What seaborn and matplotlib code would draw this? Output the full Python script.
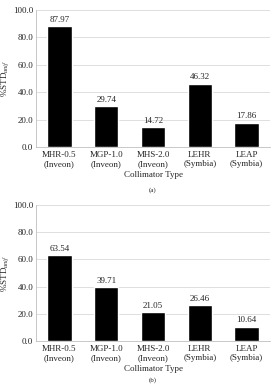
import numpy as np
import pandas as pd
import matplotlib
matplotlib.use("Agg")
import matplotlib.pyplot as plt
import seaborn as sns

categories = ["MHR-0.5\n(Inveon)", "MGP-1.0\n(Inveon)", "MHS-2.0\n(Inveon)",
              "LEHR\n(Symbia)", "LEAP\n(Symbia)"]
values_a = [87.97, 29.74, 14.72, 46.32, 17.86]
values_b = [63.54, 39.71, 21.05, 26.46, 10.64]
yticks = [0, 20, 40, 60, 80, 100]

sns.set_theme(style="white")
plt.rcParams['font.family'] = ['Liberation Serif', 'DejaVu Serif']
plt.rcParams['mathtext.fontset'] = 'stix'

W, H = 274, 388
fig = plt.figure(figsize=(W / 100, H / 100), dpi=100)


def panel(rect_px, values, tag, tag_y):
    x0, y_top, x1, y_bot = rect_px
    ax = fig.add_axes([x0 / W, 1 - y_bot / H, (x1 - x0) / W, (y_bot - y_top) / H])
    df = pd.DataFrame({"cat": categories, "val": values})
    sns.barplot(data=df, x="cat", y="val", color="black", width=0.52,
                saturation=1, ax=ax, zorder=3)
    ax.set_ylim(0, 100)
    ax.set_xlim(-0.5, 4.5)
    ax.set_yticks(yticks)
    ax.set_yticklabels([f"{v:.1f}" for v in yticks], fontsize=6.5)
    ax.tick_params(axis='x', labelsize=6.5, length=0, pad=3)
    ax.tick_params(axis='y', length=0, pad=2)
    ax.yaxis.grid(True, color='#d9d9d9', linewidth=0.6, zorder=0)
    for s in ["top", "right"]:
        ax.spines[s].set_visible(False)
    for s in ["left", "bottom"]:
        ax.spines[s].set_color('#bfbfbf')
        ax.spines[s].set_linewidth(0.6)
    for p, v in zip(ax.patches, values):
        ax.text(p.get_x() + p.get_width() / 2, v + 1.5, f"{v:.2f}",
                ha='center', va='bottom', fontsize=6.5)
    ax.set_xlabel("Collimator Type", fontsize=6.5, labelpad=2)
    ax.set_ylabel(r"%STD$_{\mathit{unif}}$", fontsize=6.5)
    ax.yaxis.set_label_coords(-0.108, 0.5)
    fig.text(0.5 * (x0 + x1) / W, 1 - tag_y / H, tag, ha='center',
             va='center', fontsize=5)
    return ax


panel((36, 10, 270, 147), values_a, "(a)", 190)
panel((36, 205, 270, 341), values_b, "(b)", 380)

fig.savefig("out.png", dpi=100)
